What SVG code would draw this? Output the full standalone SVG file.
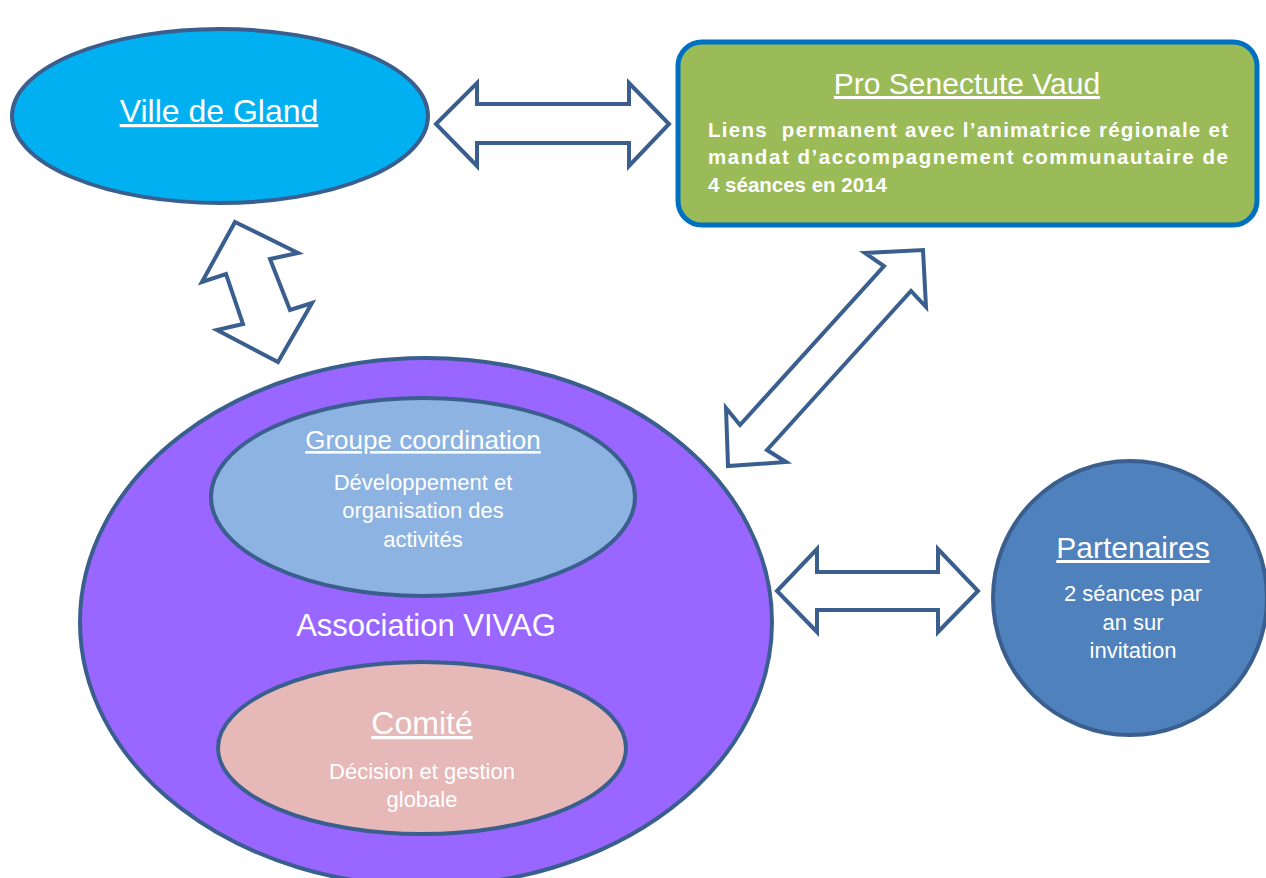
<svg xmlns="http://www.w3.org/2000/svg" width="1266" height="878" viewBox="0 0 1266 878">
<style>
.node{stroke:#3a5f8f;stroke-width:4}
.arrow{fill:#ffffff;stroke:#3a5f8f;stroke-width:4;stroke-linejoin:miter}
text{font-family:"Liberation Sans",Arial,sans-serif;fill:#ffffff;text-anchor:middle}
.title{text-decoration:underline}
.body{font-size:22px}
.pro{font-size:20.5px;font-weight:bold;text-anchor:start}
</style>
<rect width="1266" height="878" fill="#ffffff"/>
<g id="association">
<ellipse class="node" cx="426" cy="622" rx="346" ry="264" fill="#9966ff"/>
<text x="426" y="636" font-size="31">Association VIVAG</text>
</g>
<g id="groupe-coordination">
<ellipse class="node" cx="423" cy="497" rx="212" ry="99" fill="#8db3e2"/>
<text class="title" x="423" y="449" font-size="26">Groupe coordination</text>
<text class="body" x="423" y="490">Développement et</text>
<text class="body" x="423" y="518">organisation des</text>
<text class="body" x="423" y="547">activités</text>
</g>
<g id="comite">
<ellipse class="node" cx="422" cy="748" rx="204" ry="86" fill="#e6b8b7"/>
<text class="title" x="422" y="734" font-size="32">Comité</text>
<text class="body" x="422" y="779">Décision et gestion</text>
<text class="body" x="422" y="807">globale</text>
</g>
<g id="ville-de-gland">
<ellipse class="node" cx="220" cy="116" rx="208" ry="87" fill="#00b0f0"/>
<text class="title" x="219" y="122" font-size="32">Ville de Gland</text>
</g>
<g id="pro-senectute">
<rect x="678" y="42" width="579" height="183" rx="24" ry="24" fill="#9bbb59" stroke="#0070c0" stroke-width="5"/>
<text class="title" x="967" y="94" font-size="30">Pro Senectute Vaud</text>
<text class="pro" x="708" y="137" textLength="520" lengthAdjust="spacing" xml:space="preserve">Liens  permanent avec l’animatrice régionale et</text>
<text class="pro" x="708" y="164" textLength="520" lengthAdjust="spacing">mandat d’accompagnement communautaire de</text>
<text class="pro" x="708" y="192">4 séances en 2014</text>
</g>
<g id="partenaires">
<circle class="node" cx="1130" cy="598" r="137" fill="#4f81bd"/>
<text class="title" x="1133" y="558" font-size="30">Partenaires</text>
<text class="body" x="1133" y="601">2 séances par</text>
<text class="body" x="1133" y="630">an sur</text>
<text class="body" x="1133" y="658">invitation</text>
</g>
<g id="connectors">
<polygon class="arrow" points="436,124 477,83 477,104 629,104 629,83 669,124 629,166 629,143 477,143 477,166"/>
<polygon class="arrow" points="235,222 298,253 270,259 290,310 312,303 278,362 217,330 243,324 226,274 202,282"/>
<polygon class="arrow" points="923,250 926,307 911,291 767,450 786,462 728,466 726,408 740,425 884,266 865,253"/>
<polygon class="arrow" points="777,591 817,549 817,572 938,572 938,549 978,591 938,632 938,610 817,610 817,632"/>
</g>
</svg>
